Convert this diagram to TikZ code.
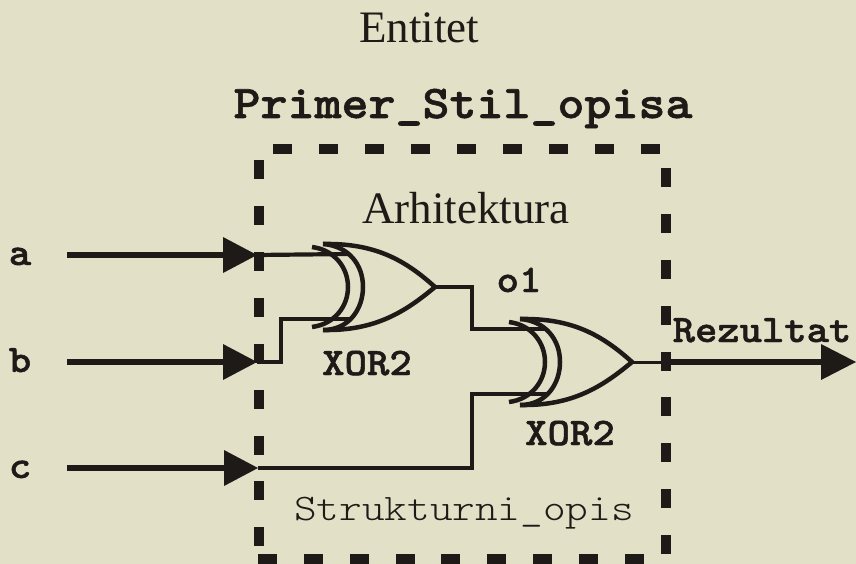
\documentclass[tikz,border=0pt]{standalone}
\usepackage{fontspec}
\setmainfont{Liberation Serif}
\newfontfamily\mbold{Latin Modern Mono Light}[BoldFeatures={FakeBold=1.2}]
\definecolor{bgc}{HTML}{E2E0C6}
\definecolor{ink}{HTML}{1E1A17}
\newcommand{\widemono}[2]{\scalebox{#1}[1]{#2}}
\tikzset{
  x=1pt,y=-1pt,
  wire/.style={draw=ink,line width=4.2pt,line cap=butt,line join=miter},
  arrowline/.style={draw=ink,line width=6.5pt},
  gateline/.style={draw=ink,line width=4.5pt,line cap=butt},
  dashpiece/.style={draw=none,fill=ink},
  head/.style={fill=ink,draw=none},
  titletxt/.style={inner sep=0pt,anchor=base,text=ink,font=\fontsize{45}{50}\selectfont},
  monob/.style={inner sep=0pt,anchor=base,text=ink,font=\mbold\bfseries\fontsize{39}{42}\selectfont},
  monor/.style={inner sep=0pt,anchor=base,text=ink,font=\mbold\fontsize{37.5}{40}\selectfont},
  monobig/.style={inner sep=0pt,anchor=base,text=ink,font=\mbold\bfseries\fontsize{47}{50}\selectfont},
  xorgate/.pic={
    \coordinate (-in1) at (350,254);
    \coordinate (-in2) at (350,319);
    \coordinate (-out) at (435,287);
    \draw[gateline] (312,247) .. controls (335,250) and (348,268) .. (348,287) .. controls (348,306) and (335,324) .. (312,327);
    \draw[gateline] (323,244) .. controls (349,246) and (363,265) .. (363,287) .. controls (363,309) and (349,330) .. (323,330);
    \draw[gateline,line join=miter] (323,244) .. controls (375,243) and (405,260) .. (435,287) .. controls (405,312) and (375,331) .. (323,330);
  }
}
\begin{document}
\begin{tikzpicture}
\useasboundingbox[fill=bgc] (0,0) rectangle (856,564);
% dashed frame
\foreach \x in {273,319,365,411,457,503,549,595,641} \fill[dashpiece] (\x,144) rectangle ++(19,10);
\foreach \x in {258,304,350,396,441,487,533,579,625} \fill[dashpiece] (\x,554) rectangle ++(19,10);
\foreach \y in {160,206,252,298,344,390,436,481,527} \fill[dashpiece] (254,\y) rectangle ++(10,19);
\foreach \y in {168,214,260,306,352,397,443,489,535} \fill[dashpiece] (661,\y) rectangle ++(10,19);
% gates
\pic (g1) at (0,0) {xorgate};
\pic (g2) at (197,75) {xorgate};
% port points
\coordinate (pa) at (67,255);
\coordinate (pb) at (67,362);
\coordinate (pc) at (67,468);
\coordinate (ta) at (257,255);
\coordinate (tb) at (257,362);
\coordinate (tc) at (258,468);
\coordinate (pr) at (666,362);
\coordinate (tr) at (856,362);
% input arrows
\foreach \p/\t in {pa/ta,pb/tb,pc/tc}{
  \draw[arrowline] (\p) -- ([xshift=-30]\t);
  \fill[head] (\t) -- ++(-34,-18) -- ++(0,36) -- cycle;
}
\draw[arrowline] (pr) -- ([xshift=-30]tr);
\fill[head] (tr) -- ++(-35,-18) -- ++(0,36) -- cycle;
% wires
\draw[wire] (ta) -- (g1-in1);
\draw[wire] (tb) -| (281,319) -- (g1-in2);
\draw[wire] (g1-out) -| (472,329) -- (g2-in1);
\draw[wire] (tc) -| (472,394) -- (g2-in2);
\draw[wire,line width=3pt] (g2-out) -- (pr);
% texts
\node[titletxt] (t1) at (419,43) {Entitet};
\node[titletxt] (t2) at (466,223) {Arhitektura};
\node[monobig] (t3) at (463,118) {\widemono{1.094}{Primer\_Stil\_opisa}};
\node[monob] (la) at (20,265) {\widemono{1.095}{a}};
\node[monob] (lb) at (20,372) {\widemono{1.095}{b}};
\node[monob] (lc) at (20,478) {\widemono{1.095}{c}};
\node[monob] (lo) at (519,292) {\widemono{1.095}{o1}};
\node[monob] (lr) at (762,342) {\widemono{1.09}{Rezultat}};
\node[monob] (x1) at (367,375) {\widemono{1.095}{XOR2}};
\node[monob] (x2) at (570,445) {\widemono{1.095}{XOR2}};
\node[monor] (so) at (464,520) {\widemono{1.15}{Strukturni\_opis}};
\end{tikzpicture}
\end{document}
